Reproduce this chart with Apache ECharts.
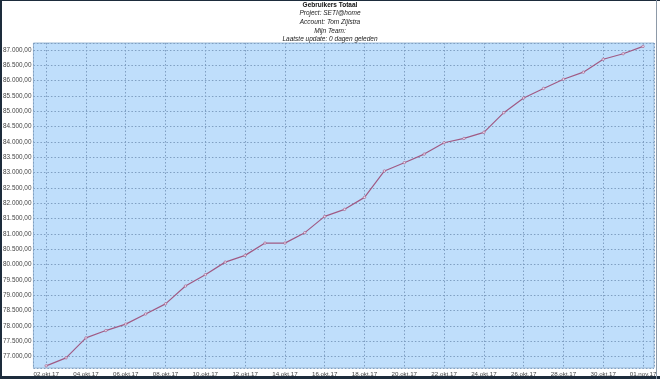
<!DOCTYPE html>
<html>
<head>
<meta charset="utf-8">
<script src="https://cdn.jsdelivr.net/npm/echarts@6/dist/echarts.min.js"></script>
<style>
html,body{margin:0;padding:0;background:#fff;}
#wrap{position:relative;width:660px;height:379px;overflow:hidden;}
#chart{position:absolute;left:0;top:0;width:660px;height:379px;}
#frame{position:absolute;left:0;top:0;width:660px;height:379px;box-sizing:border-box;border-left:2px solid #1d2c3c;border-top:1px solid #1d2c3c;border-bottom:3px solid #1d2c3c;pointer-events:none;}
#rbar{position:absolute;left:656px;top:0;width:1px;height:379px;background:#8d9aa8;pointer-events:none;}
</style>
</head>
<body>
<div id="wrap"><div id="chart"></div><div id="frame"></div><div id="rbar"></div></div>
<script>
const titleText = 'Gebruikers Totaal';
const subLines = ['Project: SETI@home', 'Account: Tom Zijlstra', 'Mijn Team:', 'Laatste update: 0 dagen geleden'];

const dates = ['02.okt.17','03.okt.17','04.okt.17','05.okt.17','06.okt.17','07.okt.17','08.okt.17','09.okt.17','10.okt.17','11.okt.17',
  '12.okt.17','13.okt.17','14.okt.17','15.okt.17','16.okt.17','17.okt.17','18.okt.17','19.okt.17','20.okt.17','21.okt.17',
  '22.okt.17','23.okt.17','24.okt.17','25.okt.17','26.okt.17','27.okt.17','28.okt.17','29.okt.17','30.okt.17','31.okt.17','01.nov.17'];

const users = [76700, 76960, 77610, 77850, 78060, 78390, 78720, 79300, 79670, 80080,
  80300, 80700, 80700, 81040, 81570, 81800, 82190, 83050, 83320, 83600,
  83970, 84110, 84310, 84950, 85430, 85740, 86040, 86270, 86690, 86870, 87110];

function fmtNum(v){
  const r = Math.round(v);
  const s = String(r).replace(/\B(?=(\d{3})+(?!\d))/g, '.');
  return s + ',00';
}

const chart = echarts.init(document.getElementById('chart'), null, {renderer:'canvas'});
const titles = [{
  text: titleText, left: 'center', top: 1.5, padding: 0,
  textStyle: {fontFamily: 'Liberation Sans, Arial', fontSize: 6.5, fontWeight: 'bold', color: '#111'}
}];
subLines.forEach((t, i) => titles.push({
  text: t, left: 'center', top: 10 + i * 8.6, padding: 0,
  textStyle: {fontFamily: 'Liberation Sans, Arial', fontSize: 6.5, fontStyle: 'italic', fontWeight: 'normal', color: '#222'}
}));

chart.setOption({
  animation: false,
  backgroundColor: '#ffffff',
  title: titles,
  grid: {
    left: 32, right: 6, top: 43, bottom: 11,
    show: true, backgroundColor: '#bfdefb', borderColor: '#9ab8d4', borderWidth: 1
  },
  xAxis: {
    type: 'value', min: -0.64, max: 30.55, splitNumber: 16,
    axisLine: {show: false}, axisTick: {show: false},
    axisLabel: {
      showMinLabel: false, showMaxLabel: false, margin: 3,
      fontFamily: 'Liberation Sans, Arial', fontSize: 6.2, color: '#444',
      formatter: v => (Number.isInteger(v) && dates[v]) ? dates[v] : ''
    },
    splitLine: {show: true, lineStyle: {color: '#7f9fc2', width: 1, type: [1.5, 2]}}
  },
  yAxis: {
    type: 'value', min: 76630, max: 87220, splitNumber: 21,
    axisLine: {show: false}, axisTick: {show: false},
    axisLabel: {
      showMinLabel: false, showMaxLabel: false, margin: 2,
      fontFamily: 'Liberation Sans, Arial', fontSize: 6.4, color: '#444',
      formatter: v => (v % 500 === 0) ? fmtNum(v) : ''
    },
    splitLine: {show: true, lineStyle: {color: '#7f9fc2', width: 1, type: [1.5, 2]}}
  },
  series: [{
    type: 'line',
    data: users.map((v, i) => [i, v]),
    symbol: 'circle', symbolSize: 2.5, showSymbol: true,
    itemStyle: {color: '#e8d8ea', borderColor: '#a05a84', borderWidth: 0.6},
    lineStyle: {color: '#a05a84', width: 1.2}
  }]
});
</script>
</body>
</html>
